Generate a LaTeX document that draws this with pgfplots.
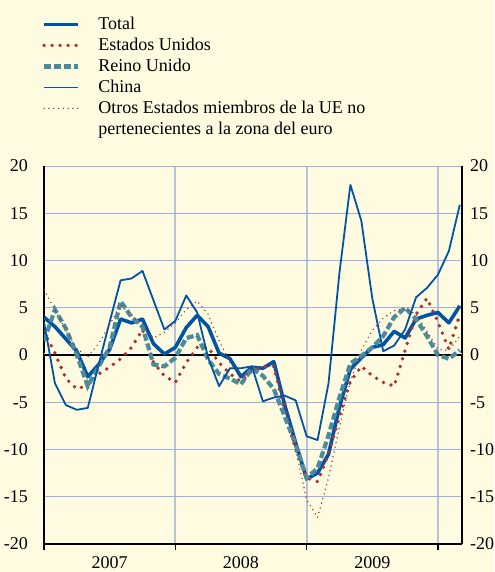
\documentclass[border=0pt]{standalone}
\usepackage{fontspec}
\setmainfont{Liberation Serif}
\usepackage{pgfplots}
\pgfplotsset{compat=1.18}
\usepackage{pgfplotstable}

\definecolor{bgcream}{HTML}{FEFBE1}
\definecolor{ecbblue}{HTML}{0054A6}
\definecolor{ecbteal}{HTML}{4A8C9C}
\definecolor{ecbred}{HTML}{B0302C}
\definecolor{gridblue}{HTML}{9EAEE2}
\definecolor{yeargrey}{HTML}{B9C1DC}

% month index (0 = Jan 2007): total, US, UK, China, other non-euro EU
\pgfplotstableread{
m  total  us     uk     china  otros
0   4.0   2.5    1.5    3.5    6.9
1   3.0   0.2    4.8   -3.0    4.8
2   1.7  -2.5    2.8   -5.3    2.6
3   0.4  -3.6    0.0   -5.8    0.7
4  -2.3  -3.2   -3.3   -5.6   -0.2
5  -1.0  -2.0   -1.2   -1.0    1.2
6   0.6  -1.3    0.8    3.5    3.2
7   3.8  -0.4    5.7    7.9    5.3
8   3.4   0.8    4.0    8.1    4.2
9   3.8   2.7    3.0    8.9    3.0
10  1.2  -0.8   -1.0    5.8    1.8
11  0.1  -2.2   -1.2    2.7    2.4
12  0.8  -2.9   -0.3    3.6    3.4
13  2.9  -0.8    1.8    6.3    4.8
14  4.2   0.8    2.1    4.5    5.7
15  3.0   0.8   -0.5   -0.3    4.3
16  0.2  -0.8   -2.0   -3.3    1.5
17 -0.4  -2.0   -2.5   -1.4   -0.8
18 -2.3  -2.8   -3.1   -1.4   -2.2
19 -1.3  -1.7   -1.4   -1.2   -1.7
20 -1.4  -1.3   -2.2   -4.9   -1.2
21 -0.7  -1.2   -3.6   -4.5   -1.2
22 -5.3  -6.0   -6.5   -4.3   -5.0
23 -9.3  -10.0  -9.5   -4.8   -10.0
24 -13.1 -13.0  -13.0  -8.6   -15.3
25 -12.5 -13.4  -12.0  -9.0   -17.2
26 -10.5 -10.5  -8.5   -3.0   -13.0
27 -5.5  -6.5   -4.5    8.7   -7.6
28 -1.5  -2.8   -0.9   18.0   -2.8
29 -0.3  -1.2   -0.1   14.2    0.5
30  0.8  -2.2    0.8    6.0    2.6
31  1.1  -2.9    2.0    0.4    3.9
32  2.5  -3.3    4.0    1.0    4.7
33  1.8   0.5    5.0    2.7    4.9
34  3.8   4.3    3.8    6.1    4.3
35  4.2   6.0    2.0    7.1    2.5
36  4.5   3.5    0.0    8.5    0.6
37  3.4   0.6   -0.4   11.0    0.5
38  5.2   4.3    0.5   15.9    2.0
}\trade

\tikzset{chartfont/.style={font=\fontsize{9}{10.5}\selectfont}}
\pgfplotsset{
  frame/.style={
    at={(22pt,14pt)}, anchor=south west,
    scale only axis, width=209pt, height=189pt,
    xmin=0, xmax=38.2, ymin=-20, ymax=20,
    ytick={-20,-15,...,20}, ytick style={draw=none},
    /pgf/number format/assume math mode=true,
    ticklabel style={chartfont},
  },
}

\begin{document}
\begin{tikzpicture}
\path[use as bounding box, fill=bgcream] (0,0) rectangle (247pt,286pt);

\begin{axis}[frame,
  axis x line*=bottom, axis y line*=box,
  axis line style={black, line width=0.6pt},
  xtick={0,12,24,36}, xticklabels={},
  x tick style={black, line width=0.6pt},
  tick align=outside, major tick length=3pt,
  xmajorgrids, ymajorgrids,
  x grid style={yeargrey, line width=1pt},
  y grid style={gridblue, line width=0.5pt},
  yticklabel style={anchor=east, xshift=-1.5pt},
  extra x ticks={6,18,30},
  extra x tick labels={2007,2008,2009},
  extra x tick style={major tick length=0pt, grid=none,
    xticklabel style={chartfont, yshift=-2.5pt}},
  legend style={draw=none, fill=none, at={(-0.020,1.414)}, anchor=north west,
    chartfont, row sep=0pt, column sep=8pt,
    cells={anchor=west},
    nodes={inner sep=0.95pt, text height=6.6pt, text depth=2pt}},
  legend cell align=left,
  no marks,
]
\draw[white, line width=1.1pt] (axis cs:0,0.12) -- (axis cs:38.2,0.12);
\draw[black, line width=0.6pt] (axis cs:0,0) -- (axis cs:38.2,0);

\addplot[ecbblue, line width=1.8pt, line join=round] table[x=m, y=total] {\trade};
\addplot[ecbred, line width=1.9pt, line cap=round, dash pattern=on 0pt off 4pt] table[x=m, y=us] {\trade};
\addplot[ecbteal, line width=2.1pt, dash pattern=on 3.5pt off 1.5pt] table[x=m, y=uk] {\trade};
\addplot[ecbblue, line width=0.9pt, line join=round] table[x=m, y=china] {\trade};
\addplot[ecbred, line width=0.8pt, line cap=round, dash pattern=on 0pt off 2.4pt] table[x=m, y=otros] {\trade};
\addlegendimage{empty legend}
\legend{Total, Estados Unidos, Reino Unido, China,
  Otros Estados miembros de la UE no, pertenecientes a la zona del euro}
\end{axis}

\begin{axis}[frame,
  hide x axis, axis y line*=right,
  axis line style={draw=none},
  yticklabel style={anchor=west, xshift=0.5pt},
]
\end{axis}
\end{tikzpicture}
\end{document}
